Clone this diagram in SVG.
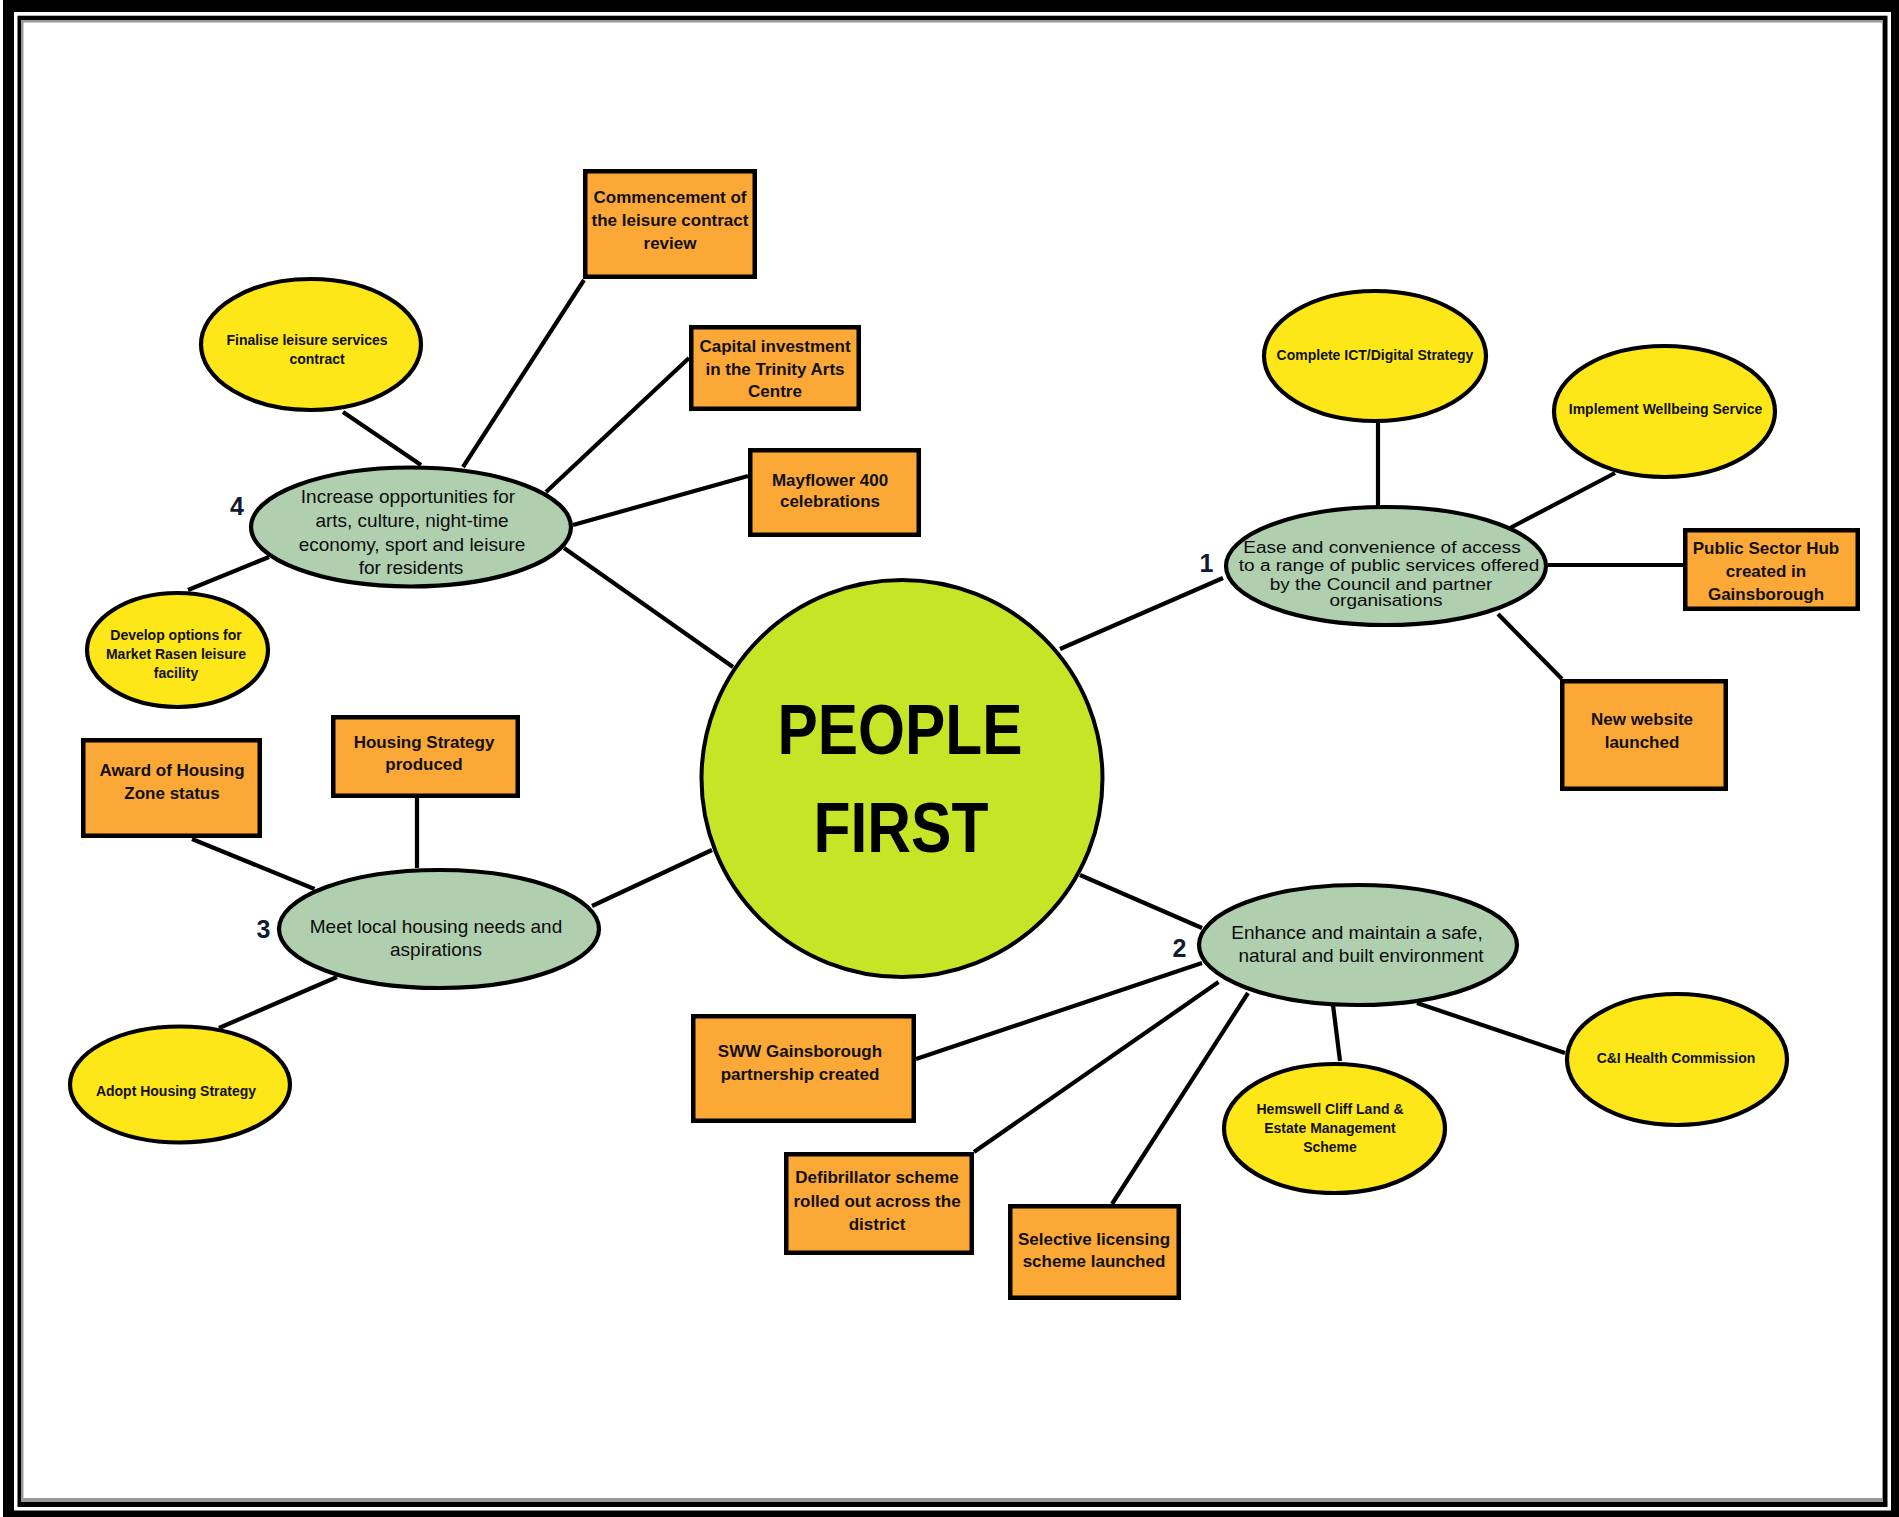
<svg xmlns="http://www.w3.org/2000/svg" width="1899" height="1517" viewBox="0 0 1899 1517">
<style>
.conn line{stroke:#000;stroke-width:4.2;stroke-linecap:butt}
.yel{fill:#FDE719;stroke:#000;stroke-width:4.2}
.grn{fill:#AFCFAF;stroke:#000;stroke-width:4.2}
.box{fill:#FCA836;stroke:#000;stroke-width:4.5}
.tb{font-family:"Liberation Sans",Arial,sans-serif;font-weight:bold;font-size:17px;fill:#111;text-anchor:middle}
.ty{font-family:"Liberation Sans",Arial,sans-serif;font-weight:bold;font-size:14px;fill:#111;text-anchor:middle}
.tg{font-family:"Liberation Sans",Arial,sans-serif;font-size:19px;fill:#0d0d0d;text-anchor:middle}
.num{font-family:"Liberation Sans",Arial,sans-serif;font-weight:bold;font-size:25px;fill:#101a33;text-anchor:middle}
</style>
<g id="frame">
<rect x="3" y="0" width="1896" height="1517" fill="#000"/>
<rect x="14" y="12" width="1877" height="1498.5" fill="#fff"/>
<rect x="17.5" y="15.7" width="1870" height="1491.3" fill="#000"/>
<rect x="21" y="20" width="1862" height="1482" fill="#9a9a9a"/>
<rect x="23.5" y="22.5" width="1858.5" height="1475.5" fill="#fff"/>
</g>
<g id="connectors" class="conn">
<line x1="564" y1="548" x2="733" y2="667"/>
<line x1="592" y1="906" x2="712" y2="850"/>
<line x1="1060" y1="649" x2="1223" y2="578"/>
<line x1="1080" y1="875" x2="1202" y2="928"/>
<line x1="343" y1="412" x2="421" y2="465"/>
<line x1="584" y1="280" x2="463" y2="467"/>
<line x1="689" y1="358" x2="546" y2="492"/>
<line x1="748" y1="476" x2="573" y2="525"/>
<line x1="269" y1="557" x2="188" y2="590"/>
<line x1="417" y1="798" x2="417" y2="868"/>
<line x1="192" y1="839" x2="314.5" y2="889"/>
<line x1="337" y1="977" x2="219" y2="1028"/>
<line x1="1378" y1="423" x2="1378" y2="507"/>
<line x1="1615" y1="473" x2="1510" y2="528"/>
<line x1="1548" y1="565" x2="1683" y2="565"/>
<line x1="1498" y1="614" x2="1562" y2="679"/>
<line x1="1202" y1="963" x2="916" y2="1059"/>
<line x1="1218.5" y1="982" x2="974" y2="1152"/>
<line x1="1248" y1="993" x2="1112" y2="1204"/>
<line x1="1333" y1="1005" x2="1340" y2="1061"/>
<line x1="1417" y1="1003" x2="1565" y2="1053"/>
</g>
<g id="center">
<ellipse cx="902" cy="778.5" rx="200.5" ry="198.5" fill="#C5E526" stroke="#000" stroke-width="4"/>
<text x="900" y="754" font-family="'Liberation Sans',Arial,sans-serif" font-weight="bold" font-size="70" text-anchor="middle" textLength="245" lengthAdjust="spacingAndGlyphs" fill="#000">PEOPLE</text>
<text x="901" y="852" font-family="'Liberation Sans',Arial,sans-serif" font-weight="bold" font-size="70" text-anchor="middle" textLength="175" lengthAdjust="spacingAndGlyphs" fill="#000">FIRST</text>
</g>
<g id="goal4">
<ellipse class="grn" cx="411" cy="527" rx="160" ry="59.5"/>
<text class="tg" x="408" y="503">Increase opportunities for</text>
<text class="tg" x="412" y="527">arts, culture, night-time</text>
<text class="tg" x="412" y="551">economy, sport and leisure</text>
<text class="tg" x="411" y="574">for residents</text>
<text class="num" x="237" y="515">4</text>
</g>
<g id="goal3">
<ellipse class="grn" cx="439" cy="929" rx="160" ry="59"/>
<text class="tg" x="436" y="933">Meet local housing needs and</text>
<text class="tg" x="436" y="956">aspirations</text>
<text class="num" x="263.5" y="938">3</text>
</g>
<g id="goal1">
<ellipse class="grn" cx="1386" cy="566" rx="160" ry="59"/>
<g transform="translate(0,566) scale(1,0.82) translate(0,-566)">
<text class="tg" x="1382" y="550">Ease and convenience of access</text>
<text class="tg" x="1389" y="572">to a range of public services offered</text>
<text class="tg" x="1381" y="595">by the Council and partner</text>
<text class="tg" x="1386" y="615">organisations</text>
</g>
<text class="num" x="1206.5" y="572">1</text>
</g>
<g id="goal2">
<ellipse class="grn" cx="1358" cy="945" rx="159" ry="60"/>
<text class="tg" x="1357" y="939" font-size="20">Enhance and maintain a safe,</text>
<text class="tg" x="1361" y="962" font-size="20">natural and built environment</text>
<text class="num" x="1179.5" y="957">2</text>
</g>
<g id="finalise">
<ellipse class="yel" cx="311" cy="344.5" rx="110" ry="65.5"/>
<text class="ty" x="307" y="345">Finalise leisure services</text>
<text class="ty" x="317" y="364">contract</text>
</g>
<g id="develop">
<ellipse class="yel" cx="177.5" cy="650" rx="90.5" ry="57"/>
<text class="ty" x="176" y="640">Develop options for</text>
<text class="ty" x="176" y="659">Market Rasen leisure</text>
<text class="ty" x="176" y="678">facility</text>
</g>
<g id="adopt">
<ellipse class="yel" cx="180" cy="1084.5" rx="110" ry="58"/>
<text class="ty" x="176" y="1096">Adopt Housing Strategy</text>
</g>
<g id="ict">
<ellipse class="yel" cx="1375" cy="356" rx="111" ry="65"/>
<text class="ty" x="1375" y="359.5">Complete ICT/Digital Strategy</text>
</g>
<g id="wellbeing">
<ellipse class="yel" cx="1664.5" cy="411.5" rx="110.5" ry="65.5"/>
<text class="ty" x="1665.5" y="414">Implement Wellbeing Service</text>
</g>
<g id="hemswell">
<ellipse class="yel" cx="1334.5" cy="1128.5" rx="110.5" ry="64.5"/>
<text class="ty" x="1330" y="1114">Hemswell Cliff Land &amp;</text>
<text class="ty" x="1330" y="1133">Estate Management</text>
<text class="ty" x="1330" y="1152">Scheme</text>
</g>
<g id="ci">
<ellipse class="yel" cx="1677" cy="1059.5" rx="110" ry="65.5"/>
<text class="ty" x="1676" y="1063">C&amp;I Health Commission</text>
</g>
<g id="commencement">
<rect class="box" x="585.25" y="171.25" width="169.5" height="105.5"/>
<text class="tb" x="670" y="203">Commencement of</text>
<text class="tb" x="670" y="226">the leisure contract</text>
<text class="tb" x="670" y="249">review</text>
</g>
<g id="capital">
<rect class="box" x="691.25" y="327.25" width="167.5" height="81.5"/>
<text class="tb" x="775" y="352">Capital investment</text>
<text class="tb" x="775" y="375">in the Trinity Arts</text>
<text class="tb" x="775" y="397">Centre</text>
</g>
<g id="mayflower">
<rect class="box" x="750.25" y="450.25" width="168.5" height="84.5"/>
<text class="tb" x="830" y="486">Mayflower 400</text>
<text class="tb" x="830" y="507">celebrations</text>
</g>
<g id="housing-strategy">
<rect class="box" x="333.25" y="717.25" width="184.5" height="78.5"/>
<text class="tb" x="424" y="747.5">Housing Strategy</text>
<text class="tb" x="424" y="770">produced</text>
</g>
<g id="award">
<rect class="box" x="83.25" y="740.25" width="176.5" height="95.5"/>
<text class="tb" x="172" y="776">Award of Housing</text>
<text class="tb" x="172" y="799">Zone status</text>
</g>
<g id="public-hub">
<rect class="box" x="1685.25" y="530.25" width="172.5" height="78.5"/>
<text class="tb" x="1766" y="554">Public Sector Hub</text>
<text class="tb" x="1766" y="577">created in</text>
<text class="tb" x="1766" y="600">Gainsborough</text>
</g>
<g id="website">
<rect class="box" x="1562.25" y="681.25" width="163.5" height="107.5"/>
<text class="tb" x="1642" y="725">New website</text>
<text class="tb" x="1642" y="748">launched</text>
</g>
<g id="sww">
<rect class="box" x="693.25" y="1016.25" width="220.5" height="104.5"/>
<text class="tb" x="800" y="1057">SWW Gainsborough</text>
<text class="tb" x="800" y="1080">partnership created</text>
</g>
<g id="defib">
<rect class="box" x="786.25" y="1154.25" width="185.5" height="98.5"/>
<text class="tb" x="877" y="1183">Defibrillator scheme</text>
<text class="tb" x="877" y="1207">rolled out across the</text>
<text class="tb" x="877" y="1230">district</text>
</g>
<g id="selective">
<rect class="box" x="1010.25" y="1206.25" width="168.5" height="91.5"/>
<text class="tb" x="1094" y="1245">Selective licensing</text>
<text class="tb" x="1094" y="1267">scheme launched</text>
</g>
</svg>
